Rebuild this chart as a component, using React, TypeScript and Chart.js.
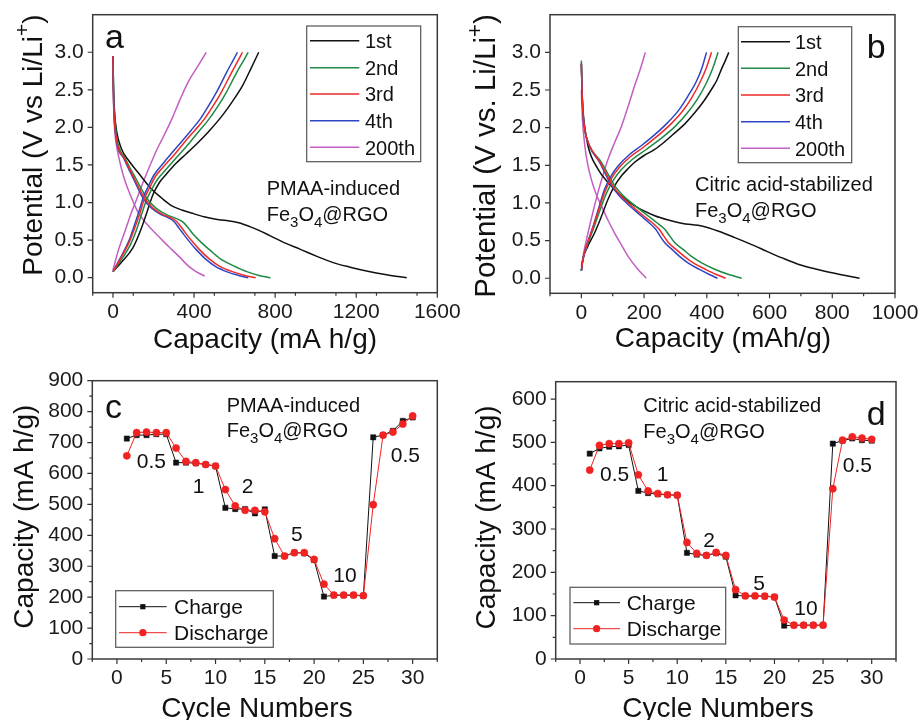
import React, { useEffect, useRef } from 'react';
import { Chart, registerables } from 'chart.js';
Chart.register(...registerables);

const FONT = '"Liberation Sans", Arial, Helvetica, sans-serif';

type Pt = [number, number];

// ---------- Panel a : PMAA-induced Fe3O4@RGO, voltage profiles ----------
const cycleNames = ['1st', '2nd', '3rd', '4th', '200th'];
const cycleColors = ['#111111', '#1e8a44', '#ee2a2a', '#2c46c4', '#c35ec3'];

const aDis1: Pt[] = [[0,2.95],[3,2.5],[8,2.2],[18,1.95],[41,1.72],[80,1.55],[124,1.40],[190,1.18],[240,1.06],[288,0.96],[340,0.90],[387,0.86],[450,0.81],[502,0.78],[560,0.76],[620,0.73],[675,0.68],[720,0.63],[774,0.56],[850,0.46],[922,0.38],[1000,0.29],[1086,0.20],[1170,0.14],[1251,0.09],[1350,0.04],[1449,0.0]];
const aDis2: Pt[] = [[0,2.9],[3,2.5],[7,2.2],[20,1.85],[62,1.58],[115,1.31],[168,1.05],[215,0.92],[264,0.84],[310,0.79],[346,0.74],[372,0.66],[395,0.58],[435,0.47],[477,0.37],[530,0.25],[593,0.16],[660,0.08],[720,0.03],[777,0.0]];
const aDis3: Pt[] = [[0,2.95],[2,2.5],[5,2.2],[17,1.85],[58,1.58],[107,1.31],[157,1.05],[200,0.92],[247,0.84],[290,0.79],[313,0.75],[340,0.66],[362,0.58],[395,0.47],[428,0.37],[475,0.25],[527,0.15],[600,0.07],[650,0.03],[704,0.0]];
const aDis4: Pt[] = [[0,2.95],[2,2.5],[5,2.2],[16,1.85],[55,1.58],[102,1.31],[150,1.05],[192,0.92],[237,0.84],[278,0.79],[300,0.75],[326,0.66],[348,0.58],[380,0.47],[412,0.37],[456,0.25],[505,0.15],[570,0.07],[620,0.03],[667,0.0]];
const aDis200: Pt[] = [[0,2.7],[3,2.3],[8,1.98],[20,1.72],[34,1.54],[52,1.35],[74,1.18],[98,1.02],[124,0.87],[165,0.72],[206,0.60],[250,0.48],[288,0.38],[330,0.27],[370,0.16],[410,0.08],[453,0.02]];

const aCh1: Pt[] = [[0,0.08],[40,0.2],[99,0.40],[135,0.62],[165,0.85],[198,1.11],[230,1.27],[264,1.38],[310,1.52],[362,1.65],[420,1.80],[477,1.96],[540,2.16],[593,2.36],[640,2.56],[680,2.78],[705,2.92],[719,3.0]];
const aCh2: Pt[] = [[0,0.08],[32,0.2],[88,0.45],[118,0.65],[142,0.85],[165,1.03],[190,1.17],[220,1.31],[258,1.43],[310,1.59],[360,1.74],[415,1.92],[465,2.08],[515,2.27],[560,2.47],[610,2.73],[642,2.88],[667,3.0]];
const aCh3: Pt[] = [[0,0.08],[30,0.22],[83,0.49],[110,0.68],[132,0.85],[155,1.05],[181,1.2],[210,1.35],[247,1.47],[300,1.63],[346,1.78],[400,1.95],[445,2.09],[490,2.27],[535,2.47],[585,2.73],[615,2.88],[639,3.0]];
const aCh4: Pt[] = [[0,0.08],[28,0.22],[80,0.5],[106,0.7],[127,0.87],[150,1.07],[175,1.22],[203,1.37],[238,1.49],[290,1.66],[335,1.80],[385,1.96],[430,2.11],[472,2.29],[515,2.49],[562,2.74],[590,2.88],[614,3.0]];
const aCh200: Pt[] = [[0,0.1],[25,0.35],[66,0.67],[90,0.86],[115,1.03],[140,1.21],[165,1.38],[190,1.54],[214,1.69],[240,1.83],[264,1.96],[295,2.14],[329,2.36],[370,2.60],[415,2.80],[460,3.0]];

// ---------- Panel b : Citric acid-stabilized Fe3O4@RGO ----------
const bDis1: Pt[] = [[0,2.85],[3,2.4],[8,2.1],[21,1.76],[53,1.45],[85,1.27],[128,1.09],[170,0.96],[234,0.83],[280,0.77],[319,0.73],[387,0.69],[440,0.62],[489,0.54],[553,0.43],[590,0.36],[640,0.27],[696,0.18],[750,0.12],[803,0.07],[850,0.03],[887,0.0]];
const bDis2: Pt[] = [[0,2.89],[2,2.5],[5,2.2],[12,1.95],[26,1.76],[64,1.54],[106,1.23],[133,1.1],[160,1.0],[212,0.83],[240,0.74],[266,0.65],[282,0.56],[298,0.47],[325,0.38],[351,0.29],[385,0.2],[425,0.12],[470,0.05],[511,0.0]];
const bDis3: Pt[] = [[0,2.85],[2,2.5],[5,2.2],[12,1.95],[26,1.76],[60,1.54],[100,1.23],[125,1.1],[150,1.0],[198,0.83],[225,0.74],[248,0.65],[263,0.56],[278,0.47],[303,0.38],[328,0.29],[358,0.2],[395,0.12],[430,0.05],[460,0.0]];
const bDis4: Pt[] = [[0,2.85],[2,2.5],[5,2.2],[12,1.95],[25,1.76],[58,1.54],[96,1.23],[120,1.1],[144,1.0],[190,0.83],[215,0.74],[237,0.65],[251,0.56],[266,0.47],[290,0.38],[313,0.29],[341,0.2],[375,0.12],[408,0.05],[434,0.0]];
const bDis200: Pt[] = [[0,2.5],[3,2.15],[11,1.76],[20,1.52],[32,1.31],[46,1.13],[64,0.96],[85,0.77],[106,0.60],[128,0.44],[149,0.29],[178,0.13],[207,0.0]];

const bCh1: Pt[] = [[0,0.1],[5,0.25],[20,0.42],[42,0.6],[62,0.8],[85,1.05],[105,1.22],[128,1.36],[150,1.46],[170,1.54],[200,1.63],[234,1.71],[265,1.81],[298,1.93],[330,2.05],[362,2.2],[390,2.35],[415,2.51],[432,2.63],[447,2.78],[460,2.9],[470,3.0]];
const bCh2: Pt[] = [[0,0.1],[5,0.25],[19,0.44],[38,0.65],[59,0.9],[80,1.13],[103,1.31],[127,1.44],[163,1.58],[207,1.71],[255,1.86],[300,2.02],[337,2.19],[370,2.38],[397,2.58],[419,2.79],[436,3.0]];
const bCh3: Pt[] = [[0,0.1],[5,0.25],[18,0.45],[36,0.66],[56,0.92],[76,1.16],[98,1.34],[121,1.47],[155,1.61],[198,1.74],[243,1.89],[286,2.05],[321,2.21],[352,2.40],[378,2.6],[399,2.8],[415,3.0]];
const bCh4: Pt[] = [[0,0.1],[5,0.25],[18,0.45],[35,0.66],[55,0.93],[74,1.18],[95,1.36],[117,1.49],[150,1.63],[191,1.76],[235,1.91],[276,2.07],[310,2.23],[340,2.42],[365,2.6],[385,2.8],[399,3.0]];
const bCh200: Pt[] = [[0,0.15],[8,0.35],[21,0.6],[37,0.88],[53,1.14],[69,1.37],[85,1.58],[106,1.8],[128,2.02],[149,2.28],[170,2.56],[188,2.78],[204,3.0]];

// ---------- Panels c, d : rate capability ----------
const cycles = [1,2,3,4,5,6,7,8,9,10,11,12,13,14,15,16,17,18,19,20,21,22,23,24,25,26,27,28,29,30];
const cCharge = [713,724,724,727,727,635,635,633,629,624,489,485,485,471,484,333,333,344,342,320,202,206,206,206,204,717,724,738,770,781];
const cDischarge = [657,732,734,732,732,682,639,635,629,624,548,495,481,481,476,389,333,344,344,322,242,207,207,207,205,499,724,734,760,786];
const dCharge = [474,486,490,491,494,388,383,380,379,378,245,241,239,244,236,147,145,145,145,143,77,78,78,78,78,497,504,509,505,504];
const dDischarge = [436,493,497,497,499,425,388,382,379,378,269,244,239,246,239,160,146,146,145,143,90,78,78,78,78,393,505,513,510,507];
const rateLabels = ['0.5', '1', '2', '5', '10', '0.5'];
const rateSeries = ['Charge', 'Discharge'];

// ---------- tick values ----------
const aXTicks = [0, 400, 800, 1200, 1600];
const bXTicks = [0, 200, 400, 600, 800, 1000];
const abYTicks = [0, 0.5, 1.0, 1.5, 2.0, 2.5, 3.0];
const cdXTicks = [0, 5, 10, 15, 20, 25, 30];
const cYTicks = [0, 100, 200, 300, 400, 500, 600, 700, 800, 900];
const dYTicks = [0, 100, 200, 300, 400, 500, 600];

// ---------- helpers ----------
type Seg = { t: string; sub?: boolean; sup?: boolean };
type TextItem = { x: number; y: number; segs: Seg[]; size: number; rot?: boolean; align?: 'left' | 'center' };
type LegendSpec = {
  box: [number, number, number, number];
  lineX: [number, number];
  textX: number;
  rows: number[];
  size: number;
  items: { label: string; color: string; marker?: 'rect' | 'circle' }[];
};
type PanelSpec = {
  left: number; top: number; width: number; height: number;
  area: { l: number; t: number; r: number; b: number };
  xMin: number; xMax: number; xTicks: number[]; xMinor: number;
  yMin: number; yMax: number; yTicks: number[]; yMinor: number; yDec: number;
  datasets: any[];
  texts: TextItem[];
  legend: LegendSpec;
};

const plain = (t: string): Seg[] => [{ t }];
const feLabel: Seg[] = [{ t: 'Fe' }, { t: '3', sub: true }, { t: 'O' }, { t: '4', sub: true }, { t: '@RGO' }];

function drawRich(ctx: CanvasRenderingContext2D, it: TextItem, ox: number, oy: number) {
  ctx.save();
  ctx.translate(it.x - ox, it.y - oy);
  if (it.rot) ctx.rotate(-Math.PI / 2);
  const sizes = it.segs.map((s) => (s.sub || s.sup ? it.size * 0.75 : it.size));
  let total = 0;
  const widths = it.segs.map((s, i) => {
    ctx.font = `${sizes[i]}px ${FONT}`;
    const w = ctx.measureText(s.t).width;
    total += w;
    return w;
  });
  let x = it.align === 'center' ? -total / 2 : 0;
  ctx.fillStyle = '#111';
  ctx.textAlign = 'left';
  ctx.textBaseline = 'alphabetic';
  it.segs.forEach((s, i) => {
    ctx.font = `${sizes[i]}px ${FONT}`;
    const dy = s.sub ? it.size * 0.3 : s.sup ? -it.size * 0.45 : 0;
    ctx.fillText(s.t, x, dy);
    x += widths[i];
  });
  ctx.restore();
}

function curve(data: Pt[], color: string) {
  return {
    data: data.map(([x, y]) => ({ x, y })),
    showLine: true,
    borderColor: color,
    backgroundColor: color,
    borderWidth: 1.5,
    pointRadius: 0,
    tension: 0.4,
    cubicInterpolationMode: 'monotone',
  };
}

function rateSet(vals: number[], color: string, marker: 'rect' | 'circle') {
  return {
    data: cycles.map((c, i) => ({ x: c, y: vals[i] })),
    showLine: true,
    borderColor: color,
    backgroundColor: color,
    borderWidth: 1,
    pointStyle: marker,
    pointRadius: marker === 'rect' ? 3.7 : 3.6,
    pointBorderWidth: 0.5,
    tension: 0,
  };
}

const rateColors = ['#111111', '#f02222'];

function makePanelPlugin(p: PanelSpec) {
  return {
    id: 'panelDecor',
    afterDraw(chart: any) {
      const ctx: CanvasRenderingContext2D = chart.ctx;
      const ca = chart.chartArea;
      const xs = chart.scales.x;
      const ys = chart.scales.y;
      ctx.save();
      // ticks
      ctx.strokeStyle = '#333';
      ctx.lineWidth = 1.2;
      ctx.beginPath();
      for (let v = p.xMin; v <= p.xMax + 1e-9; v += p.xMinor) {
        const isMajor = p.xTicks.some((t) => Math.abs(t - v) < 1e-6);
        const px = xs.getPixelForValue(v);
        if (px < ca.left - 0.5 || px > ca.right + 0.5) continue;
        ctx.moveTo(px, ca.bottom);
        ctx.lineTo(px, ca.bottom + (isMajor ? 5 : 3));
      }
      p.xTicks.forEach((v) => {
        const px = xs.getPixelForValue(v);
        ctx.moveTo(px, ca.bottom);
        ctx.lineTo(px, ca.bottom + 5);
      });
      p.yTicks.forEach((v) => {
        const py = ys.getPixelForValue(v);
        ctx.moveTo(ca.left, py);
        ctx.lineTo(ca.left - 5, py);
      });
      if (p.yMinor > 0) {
        for (let v = p.yMin; v <= p.yMax + 1e-9; v += p.yMinor) {
          if (p.yTicks.some((t) => Math.abs(t - v) < 1e-6)) continue;
          const py = ys.getPixelForValue(v);
          ctx.moveTo(ca.left, py);
          ctx.lineTo(ca.left - 3, py);
        }
      }
      ctx.stroke();
      // frame
      ctx.lineWidth = 1.5;
      ctx.strokeStyle = '#3a3a3a';
      ctx.strokeRect(ca.left, ca.top, ca.right - ca.left, ca.bottom - ca.top);
      // legend
      const lg = p.legend;
      const ox = p.left;
      const oy = p.top;
      ctx.lineWidth = 1.2;
      ctx.strokeStyle = '#555';
      ctx.strokeRect(lg.box[0] - ox, lg.box[1] - oy, lg.box[2] - lg.box[0], lg.box[3] - lg.box[1]);
      lg.items.forEach((item, i) => {
        const y = lg.rows[i] - oy;
        ctx.strokeStyle = item.color;
        ctx.lineWidth = item.marker ? 1 : 1.5;
        ctx.beginPath();
        ctx.moveTo(lg.lineX[0] - ox, y);
        ctx.lineTo(lg.lineX[1] - ox, y);
        ctx.stroke();
        if (item.marker) {
          const cx = (lg.lineX[0] + lg.lineX[1]) / 2 - ox;
          ctx.fillStyle = item.color;
          ctx.beginPath();
          if (item.marker === 'rect') ctx.rect(cx - 2.6, y - 2.6, 5.2, 5.2);
          else ctx.arc(cx, y, 3.6, 0, Math.PI * 2);
          ctx.fill();
        }
        drawRich(ctx, { x: lg.textX, y: lg.rows[i] + lg.size * 0.36, segs: plain(item.label), size: lg.size }, ox, oy);
      });
      // texts
      p.texts.forEach((t) => drawRich(ctx, t, ox, oy));
      ctx.restore();
    },
  };
}

function buildConfig(p: PanelSpec): any {
  const tickFont = { size: 21, family: FONT };
  return {
    type: 'scatter',
    data: { datasets: p.datasets },
    options: {
      animation: false,
      responsive: false,
      maintainAspectRatio: false,
      events: [],
      layout: {
        padding: { left: 0, bottom: 0, top: p.area.t - p.top, right: p.left + p.width - p.area.r },
      },
      plugins: { legend: { display: false }, tooltip: { enabled: false } },
      scales: {
        x: {
          type: 'linear',
          min: p.xMin,
          max: p.xMax,
          grid: { display: false, drawTicks: false },
          border: { display: false },
          ticks: { font: tickFont, color: '#1a1a1a', padding: 7, maxRotation: 0, autoSkip: false, callback: (v: number) => String(v) },
          afterBuildTicks: (s: any) => { s.ticks = p.xTicks.map((v) => ({ value: v })); },
          afterFit: (s: any) => {
            s.height = p.top + p.height - p.area.b;
            s.paddingLeft = 0;
            s.paddingRight = 0;
            s.paddingTop = 0;
            s.paddingBottom = 0;
          },
        },
        y: {
          type: 'linear',
          min: p.yMin,
          max: p.yMax,
          grid: { display: false, drawTicks: false },
          border: { display: false },
          ticks: { font: tickFont, color: '#1a1a1a', padding: 9, autoSkip: false, callback: (v: number) => Number(v).toFixed(p.yDec) },
          afterBuildTicks: (s: any) => { s.ticks = p.yTicks.map((v) => ({ value: v })); },
          afterFit: (s: any) => {
            s.width = p.area.l - p.left;
            s.paddingLeft = 0;
            s.paddingRight = 0;
            s.paddingTop = 0;
            s.paddingBottom = 0;
          },
        },
      },
    },
    plugins: [makePanelPlugin(p)],
  };
}

const TITLE = 28;
const ANN = 20;

const panels: PanelSpec[] = [
  {
    left: 0, top: 0, width: 460, height: 360,
    area: { l: 92.7, t: 14.7, r: 437.3, b: 292.7 },
    xMin: -100, xMax: 1600, xTicks: aXTicks, xMinor: 200,
    yMin: -0.2, yMax: 3.5, yTicks: abYTicks, yMinor: 0, yDec: 1,
    datasets: [
      curve(aDis200, cycleColors[4]), curve(aCh200, cycleColors[4]),
      curve(aDis1, cycleColors[0]), curve(aCh1, cycleColors[0]),
      curve(aDis2, cycleColors[1]), curve(aCh2, cycleColors[1]),
      curve(aDis4, cycleColors[3]), curve(aCh4, cycleColors[3]),
      curve(aDis3, cycleColors[2]), curve(aCh3, cycleColors[2]),
    ].reverse(),
    texts: [
      { x: 105, y: 48, segs: plain('a'), size: 34 },
      { x: 266.7, y: 195, segs: plain('PMAA-induced'), size: ANN },
      { x: 266.7, y: 220.7, segs: feLabel, size: ANN },
      { x: 42, y: 145, rot: true, align: 'center', size: TITLE, segs: [{ t: 'Potential (V vs Li/Li' }, { t: '+', sup: true }, { t: ')' }] },
      { x: 265, y: 348, align: 'center', size: TITLE, segs: plain('Capacity (mA h/g)') },
    ],
    legend: {
      box: [306.7, 26, 420.7, 161.7], lineX: [310, 359.3], textX: 365,
      rows: [40.7, 67.7, 94, 120.7, 147.3], size: ANN,
      items: cycleNames.map((n, i) => ({ label: n, color: cycleColors[i] })),
    },
  },
  {
    left: 460, top: 0, width: 461, height: 360,
    area: { l: 550, t: 14.7, r: 895, b: 293.3 },
    xMin: -100, xMax: 1000, xTicks: bXTicks, xMinor: 100,
    yMin: -0.2, yMax: 3.5, yTicks: abYTicks, yMinor: 0, yDec: 1,
    datasets: [
      curve(bDis200, cycleColors[4]), curve(bCh200, cycleColors[4]),
      curve(bDis1, cycleColors[0]), curve(bCh1, cycleColors[0]),
      curve(bDis2, cycleColors[1]), curve(bCh2, cycleColors[1]),
      curve(bDis4, cycleColors[3]), curve(bCh4, cycleColors[3]),
      curve(bDis3, cycleColors[2]), curve(bCh3, cycleColors[2]),
    ].reverse(),
    texts: [
      { x: 866.7, y: 58, segs: plain('b'), size: 34 },
      { x: 695, y: 190.7, segs: plain('Citric acid-stabilized'), size: ANN },
      { x: 695, y: 217.3, segs: feLabel, size: ANN },
      { x: 495, y: 156, rot: true, align: 'center', size: 29.5, segs: [{ t: 'Potential (V vs. Li/Li' }, { t: '+', sup: true }, { t: ')' }] },
      { x: 723, y: 347, align: 'center', size: TITLE, segs: plain('Capacity (mAh/g)') },
    ],
    legend: {
      box: [738.3, 26.7, 851.7, 162.7], lineX: [741, 790], textX: 795,
      rows: [41.7, 68.3, 95, 121.7, 148.3], size: ANN,
      items: cycleNames.map((n, i) => ({ label: n, color: cycleColors[i] })),
    },
  },
  {
    left: 0, top: 360, width: 460, height: 360,
    area: { l: 92.3, t: 380.7, r: 437.3, b: 659 },
    xMin: -2.5, xMax: 32.5, xTicks: cdXTicks, xMinor: 2.5,
    yMin: 0, yMax: 900, yTicks: cYTicks, yMinor: 50, yDec: 0,
    datasets: [rateSet(cDischarge, rateColors[1], 'circle'), rateSet(cCharge, rateColors[0], 'rect')],
    texts: [
      { x: 105, y: 418.3, segs: plain('c'), size: 34 },
      { x: 226.7, y: 411.7, segs: plain('PMAA-induced'), size: ANN },
      { x: 226.7, y: 437.3, segs: feLabel, size: ANN },
      { x: 136.7, y: 468.3, segs: plain(rateLabels[0]), size: 21 },
      { x: 192.7, y: 493.3, segs: plain(rateLabels[1]), size: 21 },
      { x: 241.7, y: 492.7, segs: plain(rateLabels[2]), size: 21 },
      { x: 291, y: 540.7, segs: plain(rateLabels[3]), size: 21 },
      { x: 333.3, y: 581.7, segs: plain(rateLabels[4]), size: 21 },
      { x: 390.7, y: 461.7, segs: plain(rateLabels[5]), size: 21 },
      { x: 33.3, y: 516.7, rot: true, align: 'center', size: TITLE, segs: plain('Capacity (mA h/g)') },
      { x: 257, y: 717, align: 'center', size: TITLE, segs: plain('Cycle Numbers') },
    ],
    legend: {
      box: [115.7, 590.7, 273.3, 647.3], lineX: [119, 166.7], textX: 174,
      rows: [606.7, 632.7], size: 21,
      items: [
        { label: rateSeries[0], color: rateColors[0], marker: 'rect' },
        { label: rateSeries[1], color: rateColors[1], marker: 'circle' },
      ],
    },
  },
  {
    left: 460, top: 360, width: 461, height: 360,
    area: { l: 555.7, t: 381.7, r: 896, b: 659 },
    xMin: -2.5, xMax: 32.5, xTicks: cdXTicks, xMinor: 2.5,
    yMin: 0, yMax: 640, yTicks: dYTicks, yMinor: 50, yDec: 0,
    datasets: [rateSet(dDischarge, rateColors[1], 'circle'), rateSet(dCharge, rateColors[0], 'rect')],
    texts: [
      { x: 866.7, y: 425, segs: plain('d'), size: 34 },
      { x: 643.3, y: 411.7, segs: plain('Citric acid-stabilized'), size: ANN },
      { x: 643.3, y: 438.3, segs: feLabel, size: ANN },
      { x: 600, y: 480.7, segs: plain(rateLabels[0]), size: 21 },
      { x: 656.7, y: 480.7, segs: plain(rateLabels[1]), size: 21 },
      { x: 703.3, y: 547.3, segs: plain(rateLabels[2]), size: 21 },
      { x: 753.3, y: 590, segs: plain(rateLabels[3]), size: 21 },
      { x: 794.3, y: 615, segs: plain(rateLabels[4]), size: 21 },
      { x: 842.7, y: 472.3, segs: plain(rateLabels[5]), size: 21 },
      { x: 495, y: 517.5, rot: true, align: 'center', size: TITLE, segs: plain('Capacity (mA h/g)') },
      { x: 718, y: 717, align: 'center', size: TITLE, segs: plain('Cycle Numbers') },
    ],
    legend: {
      box: [570, 587.3, 725.7, 644], lineX: [573.3, 620], textX: 626.7,
      rows: [602.7, 628.7], size: 21,
      items: [
        { label: rateSeries[0], color: rateColors[0], marker: 'rect' },
        { label: rateSeries[1], color: rateColors[1], marker: 'circle' },
      ],
    },
  },
];

function PanelCanvas({ spec }: { spec: PanelSpec }) {
  const ref = useRef<HTMLCanvasElement | null>(null);
  useEffect(() => {
    if (!ref.current) return;
    const chart = new Chart(ref.current, buildConfig(spec));
    return () => chart.destroy();
  }, [spec]);
  return (
    <canvas
      ref={ref}
      width={spec.width}
      height={spec.height}
      style={{ position: 'absolute', left: spec.left, top: spec.top, width: spec.width, height: spec.height }}
    />
  );
}

export default function App() {
  return (
    <div style={{ position: 'absolute', left: 0, top: 0, width: 921, height: 720, background: '#ffffff', overflow: 'hidden' }}>
      {panels.map((p, i) => (
        <PanelCanvas key={i} spec={p} />
      ))}
    </div>
  );
}
